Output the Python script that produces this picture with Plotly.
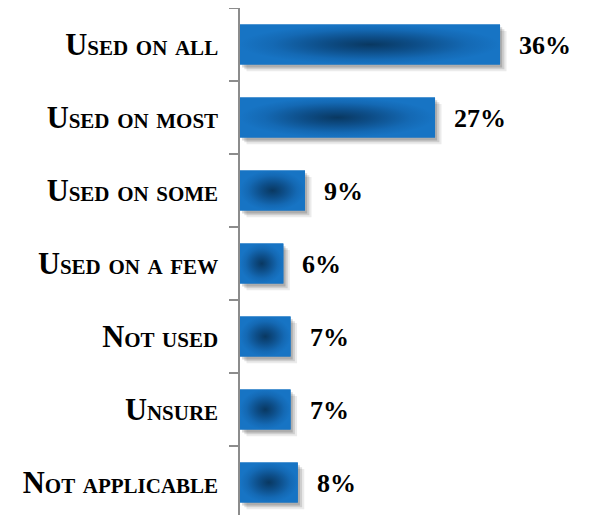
import plotly.graph_objects as go

categories = ["Used on all", "Used on most", "Used on some", "Used on a few",
              "Not used", "Unsure", "Not applicable"]
values = [36, 27, 9, 6, 7, 7, 8]
value_labels = [f"{v}%" for v in values]

positions = list(range(len(categories)))
BAR_COLOR = "#1673C2"
GLOW_SCALE = [[0, "#093861"], [0.35, "#0D4D87"], [0.75, "#1469B4"], [1, "#1774C4"]]
BAR_W = 0.55

fig = go.Figure()

# soft drop shadow (layers to fake blur)
for dx, dy, a in [(0.3, 0.04, 0.16), (0.6, 0.065, 0.12), (0.9, 0.09, 0.08)]:
    fig.add_trace(go.Bar(
        x=values, y=[p + dy for p in positions], orientation="h", base=dx,
        width=BAR_W, marker=dict(color=f"rgba(0,0,0,{a})", line=dict(width=0)),
        hoverinfo="skip", showlegend=False))

fig.add_trace(go.Bar(
    x=values, y=positions, orientation="h", width=BAR_W,
    marker=dict(color=BAR_COLOR, line=dict(width=0)),
    showlegend=False))

# radial shading of each bar, filled over the bar's own extent
for p, v in zip(positions, values):
    fig.add_trace(go.Scatter(
        x=[0, v, v, 0, 0],
        y=[p - BAR_W / 2, p - BAR_W / 2, p + BAR_W / 2, p + BAR_W / 2, p - BAR_W / 2],
        mode="lines", line=dict(width=0), fill="toself",
        fillgradient=dict(type="radial", colorscale=GLOW_SCALE),
        hoverinfo="skip", showlegend=False))

for p, v, t in zip(positions, values, value_labels):
    fig.add_annotation(x=v, y=p, text=t, showarrow=False, xanchor="left",
                       xshift=17, yshift=-1,
                       font=dict(family="Liberation Serif", size=26,
                                 color="#000", weight="bold"))

fig.update_layout(
    width=590, height=515,
    margin=dict(l=232, r=25, t=0, b=4),
    paper_bgcolor="white", plot_bgcolor="white",
    barmode="overlay",
)
fig.update_xaxes(range=[0, 46.1], visible=False, showgrid=False, zeroline=False)
fig.update_yaxes(
    range=[len(categories) - 0.5, -0.5], showline=True, linecolor="#8c8c8c",
    linewidth=1.5, ticks="", tickmode="array", tickvals=positions,
    ticktext=categories, showgrid=False, zeroline=False, ticklabelstandoff=14,
    minor=dict(tickmode="array", tickvals=[p - 0.5 for p in positions] + [len(categories) - 0.5],
               ticks="outside", ticklen=9, tickcolor="#8c8c8c", tickwidth=1.5,
               showgrid=False),
    tickfont=dict(family="Liberation Serif", size=30.5, color="#000",
                  weight="bold", variant="small-caps"),
)

fig.write_html("out.html")
